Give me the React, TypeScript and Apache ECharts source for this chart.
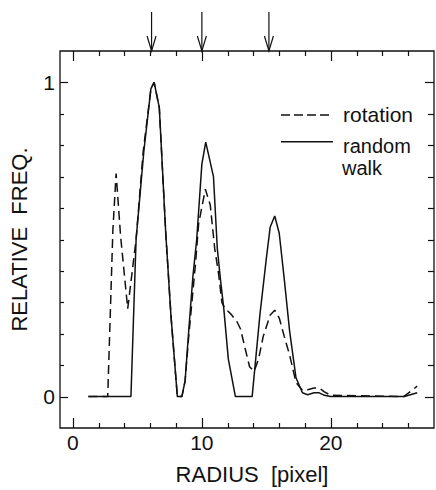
import React, { useEffect, useRef } from "react";
import * as echarts from "echarts";

// ---- data ----
const radiusWalk = [1.2, 4.5, 4.9, 5.5, 6.05, 6.3, 6.7, 7.2, 7.6, 8.1, 8.45, 8.7, 9.0, 9.3, 9.6, 10.0, 10.3, 10.9, 11.2, 11.45, 11.7, 12.05, 12.6, 13.9, 14.5, 15.0, 15.3, 15.65, 16.0, 16.4, 16.8, 17.3, 17.8, 18.2, 18.7, 19.1, 19.5, 20.0, 25.7, 26.7];
const freqWalk = [0, 0, 0.5, 0.78, 0.98, 1.0, 0.92, 0.52, 0.26, 0, 0, 0.05, 0.22, 0.38, 0.5, 0.74, 0.81, 0.7, 0.47, 0.37, 0.28, 0.12, 0, 0, 0.26, 0.44, 0.54, 0.575, 0.52, 0.37, 0.21, 0.06, 0.012, 0.006, 0.012, 0.012, 0.004, 0, 0, 0.012];

const radiusRotation = [1.2, 2.7, 3.1, 3.35, 3.7, 4.25, 4.9, 5.45, 6.05, 6.3, 6.7, 7.2, 7.6, 8.1, 8.45, 8.7, 9.0, 9.5, 9.75, 10.27, 10.65, 11.0, 11.3, 11.55, 11.8, 12.2, 12.7, 13.0, 13.35, 13.7, 14.05, 14.4, 14.75, 15.3, 15.65, 16.0, 16.4, 16.8, 17.3, 17.8, 18.2, 18.7, 19.1, 19.5, 20.0, 25.65, 26.7];
const freqRotation = [0, 0, 0.53, 0.71, 0.51, 0.28, 0.5, 0.78, 0.98, 1.0, 0.92, 0.52, 0.26, 0, 0, 0.05, 0.2, 0.42, 0.55, 0.66, 0.61, 0.47, 0.39, 0.3, 0.28, 0.265, 0.24, 0.215, 0.154, 0.095, 0.08, 0.12, 0.19, 0.26, 0.275, 0.25, 0.19, 0.133, 0.045, 0.02, 0.022, 0.027, 0.027, 0.015, 0.004, 0, 0.033];

const seriesNames = ["rotation", "random walk"];
const legendTexts = ["rotation", "random", "walk"];

const xMinorTicks = [2, 4, 6, 8, 12, 14, 16, 18, 22, 24, 26];
const xMajorTicks = [0, 10, 20];
const yMinorTicks = [0.1, 0.2, 0.3, 0.4, 0.5, 0.6, 0.7, 0.8, 0.9];
const yMajorTicks = [0, 1];
const arrowRadii = [6.1, 10.0, 15.2];

const xName = "RADIUS  [pixel]";
const yName = "RELATIVE  FREQ.";

const X_MIN = -1;
const X_MAX = 28;
const Y_MIN = -0.1;
const Y_MAX = 1.1;

export default function App() {
  const ref = useRef<HTMLDivElement>(null);

  useEffect(() => {
    const chart = echarts.init(ref.current!, null, { renderer: "svg" });
    const ink = "#111";
    const font = "Liberation Sans";

    const toPairs = (xs: number[], ys: number[]) => xs.map((x, i) => [x, ys[i]]);

    chart.setOption({
      animation: false,
      grid: {
        left: 58, right: 2, top: 51, bottom: 59,
        show: true, borderColor: ink, borderWidth: 1.3, backgroundColor: "transparent",
      },
      xAxis: {
        type: "value",
        min: X_MIN,
        max: X_MAX,
        splitLine: { show: false },
        axisLine: { show: false },
        axisTick: { show: false },
        axisLabel: { show: true, customValues: xMajorTicks, fontSize: 21, color: ink, fontFamily: font, margin: 4 },
        name: xName,
        nameLocation: "middle",
        nameGap: 35,
        nameTextStyle: { fontSize: 22, color: ink, fontFamily: font, padding: [0, 0, 0, 10] },
      },
      yAxis: {
        type: "value",
        min: Y_MIN,
        max: Y_MAX,
        splitLine: { show: false },
        axisLine: { show: false },
        axisTick: { show: false },
        axisLabel: { show: true, customValues: yMajorTicks, fontSize: 21, color: ink, fontFamily: font, margin: 5 },
        name: yName,
        nameLocation: "middle",
        nameGap: 30,
        nameRotate: 90,
        nameTextStyle: { fontSize: 22, color: ink, fontFamily: font },
      },
      series: [
        {
          name: seriesNames[0],
          type: "line",
          data: toPairs(radiusRotation, freqRotation),
          showSymbol: false,
          symbol: "none",
          lineStyle: { color: ink, width: 1.5, type: [9, 5] },
          z: 3,
        },
        {
          name: seriesNames[1],
          type: "line",
          data: toPairs(radiusWalk, freqWalk),
          showSymbol: false,
          symbol: "none",
          lineStyle: { color: ink, width: 1.5 },
          z: 4,
        },
      ],
    });

    const topY = chart.convertToPixel({ yAxisIndex: 0 }, Y_MAX) as number;
    const bottomY = chart.convertToPixel({ yAxisIndex: 0 }, Y_MIN) as number;
    const leftX = chart.convertToPixel({ xAxisIndex: 0 }, X_MIN) as number;
    const rightX = chart.convertToPixel({ xAxisIndex: 0 }, X_MAX) as number;
    const crisp = (v: number) => Math.round(v) + 0.5;

    const elements: any[] = [];

    // tick marks (one polyline per tick), positioned via the axis scales
    const tick = (pts: number[][]) => ({
      type: "polyline",
      shape: { points: pts },
      style: { stroke: ink, lineWidth: 1.2, fill: null },
      z: 100,
    });
    xMajorTicks.concat(xMinorTicks).forEach((v) => {
      const px = crisp(chart.convertToPixel({ xAxisIndex: 0 }, v) as number);
      const len = xMajorTicks.indexOf(v) >= 0 ? 10 : 5;
      elements.push(tick([[px, bottomY], [px, bottomY - len]]));
      elements.push(tick([[px, topY], [px, topY + len]]));
    });
    yMajorTicks.concat(yMinorTicks).forEach((v) => {
      const py = crisp(chart.convertToPixel({ yAxisIndex: 0 }, v) as number);
      const major = yMajorTicks.indexOf(v) >= 0;
      elements.push(tick([[leftX, py], [leftX + (major ? 8 : 4), py]]));
      elements.push(tick([[rightX, py], [rightX - (major ? 9 : 6), py]]));
    });

    arrowRadii.forEach((r) => {
      const px = chart.convertToPixel({ xAxisIndex: 0 }, r) as number;
      elements.push({
        type: "line",
        shape: { x1: px, y1: 12, x2: px, y2: topY },
        style: { stroke: ink, lineWidth: 1.2 },
      });
      elements.push({
        type: "polyline",
        shape: { points: [[px - 4.5, topY - 15], [px, topY], [px + 4.5, topY - 15]] },
        style: { stroke: ink, fill: null, lineWidth: 1.2 },
      });
    });

    elements.push(
      { type: "line", shape: { x1: 281, y1: 115, x2: 333, y2: 115 }, style: { stroke: ink, lineWidth: 1.5, lineDash: [9, 4] } },
      { type: "line", shape: { x1: 281, y1: 141.7, x2: 333, y2: 141.7 }, style: { stroke: ink, lineWidth: 1.5 } },
      { type: "text", x: 343, y: 114.4, style: { text: legendTexts[0], fontSize: 21, fontFamily: font, fill: ink, verticalAlign: "middle" } },
      { type: "text", x: 343, y: 146, style: { text: legendTexts[1], fontSize: 20, fontFamily: font, fill: ink, verticalAlign: "middle" } },
      { type: "text", x: 342, y: 167.5, style: { text: legendTexts[2], fontSize: 20, fontFamily: font, fill: ink, verticalAlign: "middle" } }
    );

    chart.setOption({ graphic: { elements } });

    return () => chart.dispose();
  }, []);

  return <div ref={ref} style={{ position: "fixed", left: 0, top: 0, width: 436, height: 490, background: "#fff" }} />;
}
